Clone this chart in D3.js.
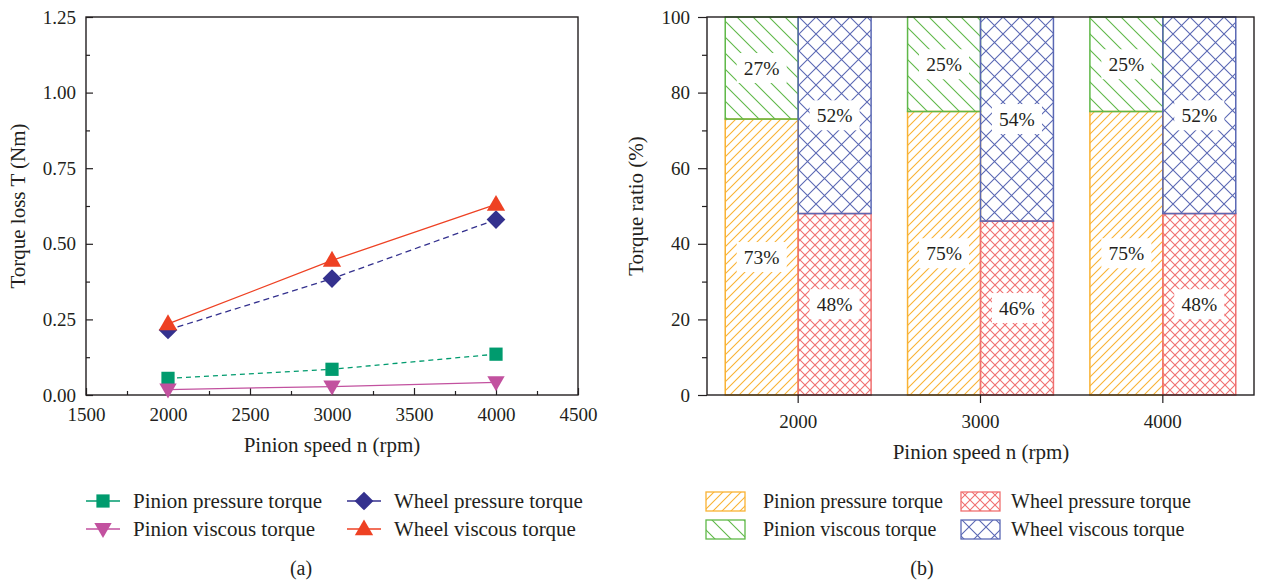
<!DOCTYPE html>
<html>
<head>
<meta charset="utf-8">
<script src="https://cdn.jsdelivr.net/npm/d3@7"></script>
<style>
body { margin: 0; background: #fff; }
text { font-family: "Liberation Serif", "DejaVu Serif", serif; fill: #231f20; }
</style>
</head>
<body>
<script>
// data
var speeds = [2000, 3000, 4000];
var pinionPressure = [0.055, 0.085, 0.135];
var pinionViscous = [0.018, 0.028, 0.042];
var wheelPressure = [0.215, 0.385, 0.58];
var wheelViscous = [0.235, 0.445, 0.63];

var xTicksA = [1500, 2000, 2500, 3000, 3500, 4000, 4500];
var yTicksA = [0, 0.25, 0.5, 0.75, 1.0, 1.25];

var ratioCats = ["2000", "3000", "4000"];
var pinionPressurePct = [73, 75, 75];
var pinionViscousPct = [27, 25, 25];
var wheelPressurePct = [48, 46, 48];
var wheelViscousPct = [52, 54, 52];
var yTicksB = [0, 20, 40, 60, 80, 100];

var tickFont = "19px", titleFont = "21px";

var svg = d3.select("body").append("svg")
	.attr("width", 1267)
	.attr("height", 582);

var defs = svg.append("defs");

function hatch(id, size, d, color) {
	defs.append("pattern")
		.attr("id", id)
		.attr("patternUnits", "userSpaceOnUse")
		.attr("width", size)
		.attr("height", size)
		.append("path")
		.attr("d", d)
		.attr("stroke", color)
		.attr("stroke-width", 1.1)
		.attr("fill", "none");
}
var cOrange = "#f9b233", cGreen = "#5fb848", cRed = "#f07070", cBlue = "#5a68b4";
hatch("pp", 9, "M0,9L9,0M-2,2L2,-2M7,11L11,7", cOrange);
hatch("pv", 16, "M0,0L16,16M-4,12L4,20M12,-4L20,4", cGreen);
hatch("wp", 10, "M0,0L10,10M0,10L10,0", cRed);
hatch("wv", 17, "M0,0L17,17M0,17L17,0", cBlue);

// ---------- (a) line chart ----------
var x = d3.scaleLinear().domain([1500, 4500]).range([86, 578]);
var y = d3.scaleLinear().domain([0, 1.25]).range([395, 17]);

var ga = svg.append("g");

ga.append("g")
	.attr("transform", "translate(0,395)")
	.call(d3.axisBottom(x).tickValues(d3.range(1750, 4500, 500)).tickSize(-4).tickFormat(""))
	.call(g => g.select(".domain").remove());
ga.append("g")
	.attr("transform", "translate(0,395)")
	.call(d3.axisBottom(x).tickValues(xTicksA).tickSize(-7).tickPadding(13).tickFormat(d3.format("d")))
	.call(g => g.select(".domain").remove())
	.selectAll("text").attr("font-size", tickFont).attr("font-family", "Liberation Serif");

ga.append("g")
	.attr("transform", "translate(86,0)")
	.call(d3.axisLeft(y).tickValues(d3.range(0.125, 1.25, 0.25)).tickSize(-4).tickFormat(""))
	.call(g => g.select(".domain").remove());
ga.append("g")
	.attr("transform", "translate(86,0)")
	.call(d3.axisLeft(y).tickValues(yTicksA).tickSize(-7).tickPadding(10).tickFormat(d3.format(".2f")))
	.call(g => g.select(".domain").remove())
	.selectAll("text").attr("font-size", tickFont).attr("font-family", "Liberation Serif");

ga.selectAll(".tick line").attr("stroke", "#231f20").attr("stroke-width", 1.2);

ga.append("rect")
	.attr("x", 86).attr("y", 17).attr("width", 578 - 86).attr("height", 395 - 17)
	.attr("fill", "none").attr("stroke", "#231f20").attr("stroke-width", 1.4);

ga.append("text")
	.attr("transform", "translate(25,206) rotate(-90)")
	.attr("text-anchor", "middle")
	.attr("font-size", titleFont)
	.text("Torque loss T (Nm)");
ga.append("text")
	.attr("x", 332).attr("y", 452)
	.attr("text-anchor", "middle")
	.attr("font-size", titleFont)
	.text("Pinion speed n (rpm)");

var diamond = {draw: function(ctx, size) {
	var r = Math.sqrt(size / 2);
	ctx.moveTo(0, -r); ctx.lineTo(r, 0); ctx.lineTo(0, r); ctx.lineTo(-r, 0); ctx.closePath();
}};

var seriesA = [
	{name: "Pinion pressure torque", values: pinionPressure, color: "#009b6e", dash: "5,4", sym: d3.symbolSquare, size: 175, rot: 0, dy: 0},
	{name: "Pinion viscous torque", values: pinionViscous, color: "#c2519f", dash: null, sym: d3.symbolTriangle, size: 130, rot: 180, dy: -1},
	{name: "Wheel pressure torque", values: wheelPressure, color: "#34318e", dash: "6,4", sym: diamond, size: 175, rot: 0, dy: 0},
	{name: "Wheel viscous torque", values: wheelViscous, color: "#ee4123", dash: null, sym: d3.symbolTriangle, size: 145, rot: 0, dy: 1}
];

var line = d3.line().x((d, i) => x(speeds[i])).y(d => y(d));

seriesA.forEach((s) => {
	ga.append("path")
		.attr("d", line(s.values))
		.attr("fill", "none")
		.attr("stroke", s.color)
		.attr("stroke-width", 1.3)
		.attr("stroke-dasharray", s.dash);
});
seriesA.forEach((s) => {
	ga.selectAll(null).data(s.values).enter()
		.append("path")
		.attr("d", d3.symbol().type(s.sym).size(s.size))
		.attr("transform", (d, i) => "translate(" + x(speeds[i]) + "," + (y(d) + s.dy) + ") rotate(" + s.rot + ")")
		.attr("fill", s.color);
});

// legend (a)
var legA = [[86, 501], [86, 529], [347, 501], [347, 529]];
seriesA.forEach((s, i) => {
	var lx = legA[i][0], ly = legA[i][1];
	ga.append("line")
		.attr("x1", lx).attr("x2", lx + 34).attr("y1", ly).attr("y2", ly)
		.attr("stroke", s.color).attr("stroke-width", 1.3);
	ga.append("path")
		.attr("d", d3.symbol().type(s.sym).size(s.size))
		.attr("transform", "translate(" + (lx + 17) + "," + (ly + s.dy) + ") rotate(" + s.rot + ")")
		.attr("fill", s.color);
	ga.append("text")
		.attr("x", lx + 47).attr("y", ly + 7)
		.attr("font-size", "21px")
		.text(s.name);
});
ga.append("text").attr("x", 301).attr("y", 575).attr("text-anchor", "middle").attr("font-size", "20px").text("(a)");

// ---------- (b) stacked bars ----------
var xb = d3.scaleBand().domain(ratioCats).range([707, 1254]);
var yb = d3.scaleLinear().domain([0, 100]).range([395, 17]);
var bw = xb.bandwidth() * 0.4;

var gb = svg.append("g");

var bars = [];
ratioCats.forEach((c, i) => {
	var cx = xb(c) + xb.bandwidth() / 2;
	bars.push({x: cx - bw, y0: 0, y1: pinionPressurePct[i], pat: "pp", color: cOrange, v: pinionPressurePct[i]});
	bars.push({x: cx - bw, y0: pinionPressurePct[i], y1: 100, pat: "pv", color: cGreen, v: pinionViscousPct[i]});
	bars.push({x: cx, y0: 0, y1: wheelPressurePct[i], pat: "wp", color: cRed, v: wheelPressurePct[i]});
	bars.push({x: cx, y0: wheelPressurePct[i], y1: 100, pat: "wv", color: cBlue, v: wheelViscousPct[i]});
});

gb.selectAll("rect.bar").data(bars).enter()
	.append("rect")
	.attr("class", "bar")
	.attr("x", d => d.x)
	.attr("y", d => yb(d.y1))
	.attr("width", bw)
	.attr("height", d => yb(d.y0) - yb(d.y1))
	.attr("fill", d => "url(#" + d.pat + ")")
	.attr("stroke", d => d.color)
	.attr("stroke-width", 1.5);

gb.selectAll("rect.lbl").data(bars).enter()
	.append("rect")
	.attr("x", d => d.x + bw / 2 - 25)
	.attr("y", d => yb((d.y0 + d.y1) / 2) - 15)
	.attr("width", 50).attr("height", 30)
	.attr("fill", "#fff");
gb.selectAll("text.lbl").data(bars).enter()
	.append("text")
	.attr("x", d => d.x + bw / 2)
	.attr("y", d => yb((d.y0 + d.y1) / 2) + 7)
	.attr("text-anchor", "middle")
	.attr("font-size", "19.5px")
	.text(d => d.v + "%");

gb.append("g")
	.attr("transform", "translate(0,395)")
	.call(d3.axisBottom(xb).tickSize(8).tickPadding(12))
	.call(g => g.select(".domain").remove())
	.selectAll("text").attr("font-size", tickFont).attr("font-family", "Liberation Serif");
gb.append("g")
	.attr("transform", "translate(707,0)")
	.call(d3.axisLeft(yb).tickValues(d3.range(10, 100, 20)).tickSize(5).tickFormat(""))
	.call(g => g.select(".domain").remove());
gb.append("g")
	.attr("transform", "translate(707,0)")
	.call(d3.axisLeft(yb).tickValues(yTicksB).tickSize(9).tickPadding(8))
	.call(g => g.select(".domain").remove())
	.selectAll("text").attr("font-size", tickFont).attr("font-family", "Liberation Serif");
gb.selectAll(".tick line").attr("stroke", "#231f20").attr("stroke-width", 1.2);

gb.append("rect")
	.attr("x", 707).attr("y", 17).attr("width", 1254 - 707).attr("height", 395 - 17)
	.attr("fill", "none").attr("stroke", "#231f20").attr("stroke-width", 1.4);

gb.append("text")
	.attr("transform", "translate(643,206) rotate(-90)")
	.attr("text-anchor", "middle")
	.attr("font-size", titleFont)
	.text("Torque ratio (%)");
gb.append("text")
	.attr("x", 981).attr("y", 459)
	.attr("text-anchor", "middle")
	.attr("font-size", titleFont)
	.text("Pinion speed n (rpm)");

// legend (b)
var legB = [
	{name: "Pinion pressure torque", pat: "pp", color: cOrange, x: 706, y: 492, tx: 763},
	{name: "Pinion viscous torque", pat: "pv", color: cGreen, x: 706, y: 520, tx: 763},
	{name: "Wheel pressure torque", pat: "wp", color: cRed, x: 961, y: 492, tx: 1011},
	{name: "Wheel viscous torque", pat: "wv", color: cBlue, x: 961, y: 520, tx: 1011}
];
legB.forEach((l) => {
	gb.append("rect")
		.attr("x", l.x).attr("y", l.y).attr("width", 39).attr("height", 19)
		.attr("fill", "url(#" + l.pat + ")")
		.attr("stroke", l.color).attr("stroke-width", 1.3);
	gb.append("text")
		.attr("x", l.tx).attr("y", l.y + 16)
		.attr("font-size", "20px")
		.text(l.name);
});
gb.append("text").attr("x", 922).attr("y", 575).attr("text-anchor", "middle").attr("font-size", "20px").text("(b)");
</script>
</body>
</html>
